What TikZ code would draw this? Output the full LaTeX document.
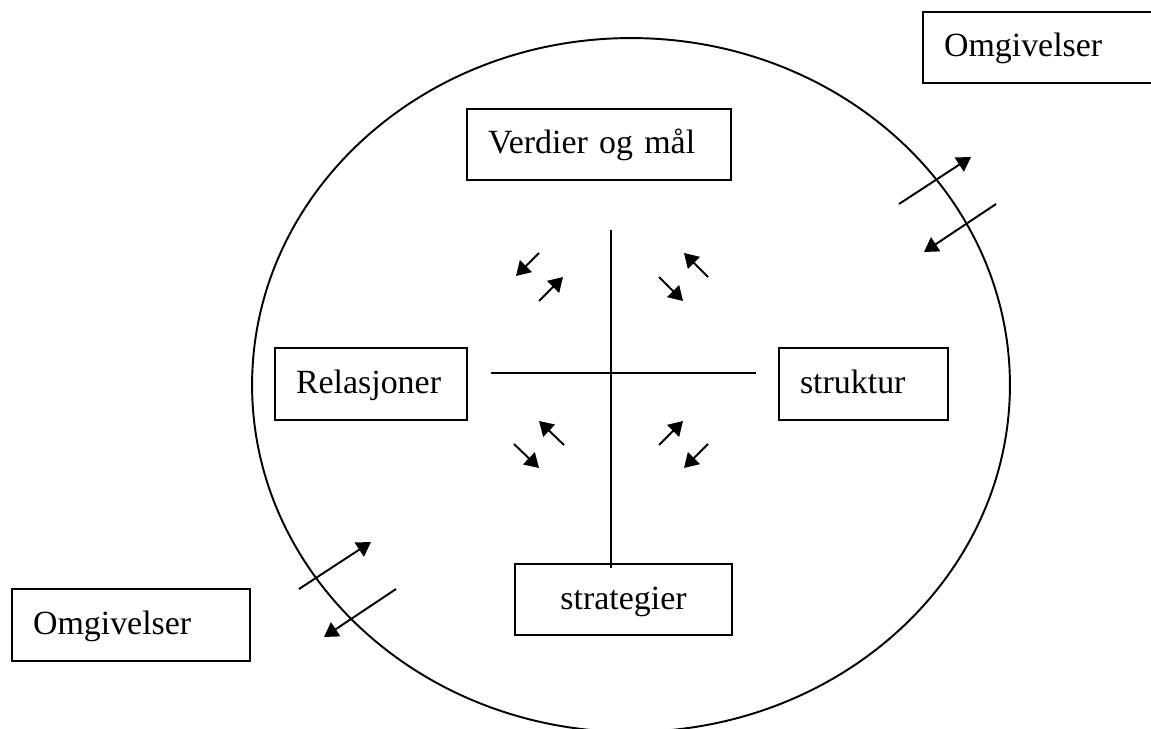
\documentclass[tikz,border=0pt]{standalone}
\usepackage{fontspec}
\setmainfont{Liberation Serif}
\usetikzlibrary{positioning,arrows.meta}

\begin{document}
\begin{tikzpicture}[x=0.02cm,y=-0.02cm,
    boks/.style={draw,line width=1.1pt,inner xsep=0.42cm,inner ysep=0pt,minimum height=1.43cm,text height=0.58cm,text depth=0.2cm,align=left,font=\fontsize{19.3}{23}\selectfont},
    pil/.style={line width=1.1pt,-{Triangle[length=8pt,width=9.5pt]}}]
      \useasboundingbox (0,0) rectangle (1151,729);
      % organisasjonen
      \draw[line width=1.1pt] (631,385) ellipse [x radius=7.58cm,y radius=6.94cm];
      \node[boks,text width=4.44cm](verdier) at (599,144.5){Verdier og mål};
      \node[boks,text width=3.00cm](relasjoner) at (371,384){Relasjoner};
      \node[boks,text width=2.54cm](struktur) at (863.5,384){struktur};
      \node[boks,text width=3.50cm,align=center](strategier) at (623.5,599.5){strategier};
      \node[boks,text width=3.92cm](omg1) at (131,625){Omgivelser};
      \node[boks,text width=3.90cm](omg2) at (1041.5,47.5){Omgivelser};
      % korset
      \coordinate (kopp) at (611,230);
      \coordinate (kned) at (611,568);
      \coordinate (kvenstre) at (491,373);
      \coordinate (khoyre) at (756,373);
      \draw[line width=1.1pt] (kopp) -- (kned);
      \draw[line width=1.1pt] (kvenstre) -- (khoyre);
      % piler inne
      \coordinate (p1a) at (539,253); \coordinate (p1b) at (516,276);
      \coordinate (p2a) at (539,301); \coordinate (p2b) at (563,277);
      \coordinate (p3a) at (708,277); \coordinate (p3b) at (684,253);
      \coordinate (p4a) at (659,277); \coordinate (p4b) at (683,301);
      \coordinate (p5a) at (564,445); \coordinate (p5b) at (539,421);
      \coordinate (p6a) at (514,444); \coordinate (p6b) at (539,468);
      \coordinate (p7a) at (659,445); \coordinate (p7b) at (683,421);
      \coordinate (p8a) at (708,444); \coordinate (p8b) at (684,468);
      \draw[pil] (p1a) -- (p1b);
      \draw[pil] (p2a) -- (p2b);
      \draw[pil] (p3a) -- (p3b);
      \draw[pil] (p4a) -- (p4b);
      \draw[pil] (p5a) -- (p5b);
      \draw[pil] (p6a) -- (p6b);
      \draw[pil] (p7a) -- (p7b);
      \draw[pil] (p8a) -- (p8b);
      % piler ut og inn
      \coordinate (u1a) at (899,204); \coordinate (u1b) at (971,157);
      \coordinate (u2a) at (996,204); \coordinate (u2b) at (924,252);
      \coordinate (u3a) at (299,589); \coordinate (u3b) at (371,542);
      \coordinate (u4a) at (396,589); \coordinate (u4b) at (324,637);
      \draw[pil] (u1a) -- (u1b);
      \draw[pil] (u2a) -- (u2b);
      \draw[pil] (u3a) -- (u3b);
      \draw[pil] (u4a) -- (u4b);
    \end{tikzpicture}
\end{document}
